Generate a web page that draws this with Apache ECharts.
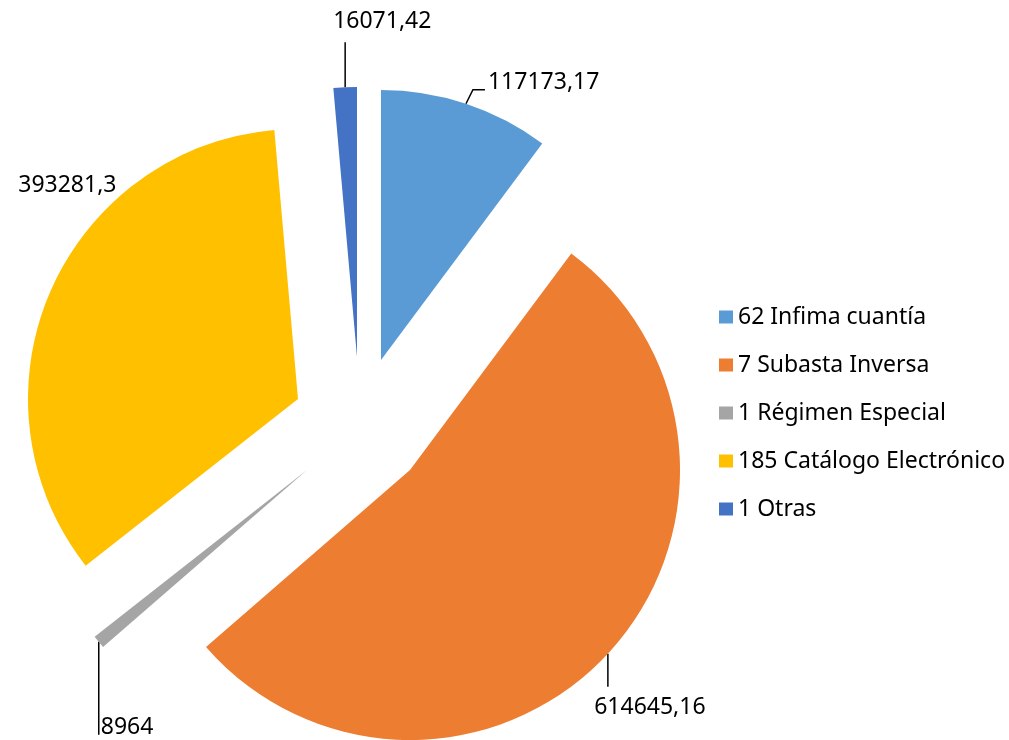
<!DOCTYPE html>
<html><head><meta charset="utf-8">
<script src="https://cdn.jsdelivr.net/npm/echarts@6/dist/echarts.min.js"></script>
<style>html,body{margin:0;padding:0;background:#fff}#c{width:1009px;height:740px}</style>
</head><body><div id="c"></div>
<script>
// ---- data ----
const categories = ['62 Infima cuantía', '7 Subasta Inversa', '1 Régimen Especial', '185 Catálogo Electrónico', '1 Otras'];
const values = [117173.17, 614645.16, 8964, 393281.3, 16071.42];

// ---- styling / layout ----
const colors = ['#5B9BD5', '#ED7D31', '#A5A5A5', '#FFC000', '#4472C4'];
// each slice is exploded to its own centre (Excel-style explosion)
const centers = [[381, 360], [410, 470], [307, 470], [298, 399], [357, 357]];
const RADIUS = 270;
const FONT = 'Noto Sans';
const FONT_SIZE = 23;
// label placement relative to the slice's leader anchor (outer arc at bisector)
const placement = [
  { line: [[7, -14], [19, -14]], dx: 22, dy: -21, align: 'left' },
  { line: [[0, 33]], dx: 42, dy: 54, align: 'center' },
  { line: [[0, 93]], dx: 2, dy: 86, align: 'left' },
  { line: null, dx: -32, dy: -106, align: 'left' },
  { line: [[0, -45]], dx: -12, dy: -66, align: 'left' }
];

const fmt = v => String(v).replace('.', ',');

const series = categories.map((_, i) => ({
  type: 'pie',
  center: centers[i],
  radius: RADIUS,
  startAngle: 90,
  clockwise: true,
  avoidLabelOverlap: false,
  animation: false,
  silent: true,
  emphasis: { disabled: true },
  label: {
    position: 'outside',
    formatter: p => fmt(p.value),
    fontFamily: FONT,
    fontSize: FONT_SIZE,
    color: '#000'
  },
  labelLine: { show: true, length: 10, length2: 10, lineStyle: { color: '#000', width: 1.5 } },
  data: categories.map((name, j) => ({
    name,
    value: values[j],
    itemStyle: { color: j === i ? colors[j] : 'rgba(0,0,0,0)' },
    label: { show: j === i },
    labelLine: { show: j === i, lineStyle: { opacity: (j === i && placement[j].line) ? 1 : 0 } }
  })),
  labelLayout: function (params) {
    const pl = placement[params.dataIndex];
    const pts = params.labelLinePoints;
    if (!pts) return {};
    const p0 = pts[0];
    const res = {
      x: p0[0] + pl.dx,
      y: p0[1] + pl.dy,
      align: pl.align,
      verticalAlign: 'middle'
    };
    if (pl.line) {
      res.labelLinePoints = [[p0[0], p0[1]]].concat(pl.line.map(o => [p0[0] + o[0], p0[1] + o[1]]));
    } else {
      res.labelLinePoints = [[p0[0], p0[1]], [p0[0], p0[1]], [p0[0], p0[1]]];
    }
    return res;
  }
}));

const chart = echarts.init(document.getElementById('c'), null, { renderer: 'canvas' });
chart.setOption({
  backgroundColor: '#fff',
  animation: false,
  legend: {
    orient: 'vertical',
    left: 714,
    top: 300,
    itemWidth: 14,
    itemHeight: 13,
    itemGap: 24,
    icon: 'rect',
    selectedMode: false,
    textStyle: { fontFamily: FONT, fontSize: FONT_SIZE, color: '#000', lineHeight: 24 },
    data: categories.map((name, i) => ({ name, itemStyle: { color: colors[i] } }))
  },
  series
});
</script>
</body></html>
